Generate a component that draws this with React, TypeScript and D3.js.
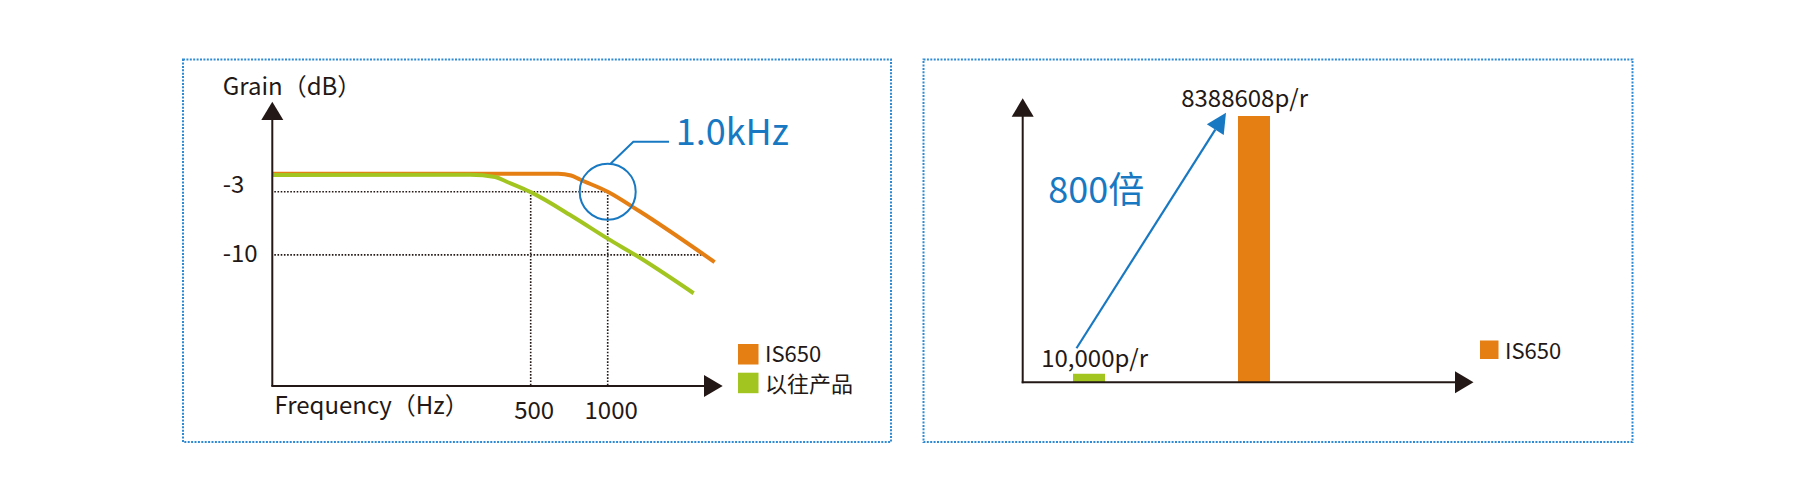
import React from 'react';
import * as d3 from 'd3';

// ---------- Data ----------
const freqIS650 = [49, 640, 719, 779, 1000, 1337, 2618];
const gainIS650 = [-1.0, -1.0, -1.2, -1.65, -3.0, -5.2, -10.8];
const freqOld = [49, 290, 363, 403, 500, 734, 1000, 1298, 2168];
const gainOld = [-1.15, -1.12, -1.37, -1.9, -3.05, -5.8, -8.2, -10.1, -14.25];
const freqTicks = [500, 1000];
const gainTicks = [-3, -10];
const lineSeries = ['IS650', '以往产品'];

const barCategories = ['以往产品', 'IS650'];
const barValues = [10000, 8388608];
const barLabels = ['10,000p/r', '8388608p/r'];
const barLegend = ['IS650'];

const ORANGE = '#e57f13';
const GREEN = '#a2c520';
const BLUE = '#1879c2';
const DARK = '#231815';
const BORDER = '#2e8bd3';
const FONT = '"Noto Sans CJK SC", "Noto Sans", sans-serif';

export default function App() {
  // ---- left chart scales ----
  const x = d3.scaleLog().domain([500, 1000]).range([530.7, 607.7]);
  const y = d3.scaleLinear().domain([-3, -10]).range([191.7, 254.9]);
  const axX0 = 272.3;
  const axY0 = 386;
  const line = d3
    .line<[number, number]>()
    .x((d) => x(d[0]))
    .y((d) => y(d[1]))
    .curve(d3.curveMonotoneX);
  const orangePts = freqIS650.map((f, i) => [f, gainIS650[i]] as [number, number]);
  const greenPts = freqOld.map((f, i) => [f, gainOld[i]] as [number, number]);

  // ---- right chart scales ----
  const bx = d3.scalePoint<string>().domain(barCategories).range([1089, 1254]);
  const by = d3.scaleLog().domain([8000, 8388608]).range([382.3, 116]);
  const barW = 32;
  const bAxX0 = 1022.7;
  const bAxY0 = by(8000);

  const tailX = bx('以往产品')! - 12.5;
  const tailY = by(10000) - 25.5;
  const tipX = bx('IS650')! - 28;
  const tipY = by(8388608) - 3.3;
  const ang = Math.atan2(tipY - tailY, tipX - tailX);
  const headLen = 20;
  const headHalf = 10;
  const bxm = tipX - headLen * Math.cos(ang);
  const bym = tipY - headLen * Math.sin(ang);
  const px = -Math.sin(ang);
  const py = Math.cos(ang);
  const head = `M${tipX},${tipY}L${bxm + px * headHalf},${bym + py * headHalf}L${bxm - px * headHalf},${bym - py * headHalf}Z`;

  const dot = { stroke: DARK, strokeWidth: 1.6, strokeDasharray: '1.6 1.6', fill: 'none' } as const;

  return (
    <svg
      width={1800}
      height={497}
      style={{ position: 'absolute', left: 0, top: 0, background: '#fff' }}
      fontFamily={FONT}
    >
      {/* panel borders */}
      <rect x={183} y={59.5} width={708} height={382.5} fill="none" stroke={BORDER} strokeWidth={2} strokeDasharray="2 1.4" />
      <rect x={923.5} y={59.5} width={709} height={382.5} fill="none" stroke={BORDER} strokeWidth={2} strokeDasharray="2 1.4" />

      {/* ---------- LEFT CHART ---------- */}
      <line x1={axX0 + 2} x2={x(1000)} y1={y(-3)} y2={y(-3)} {...dot} />
      <line x1={axX0 + 2} x2={705} y1={y(-10)} y2={y(-10)} {...dot} />
      {freqTicks.map((f) => (
        <line key={f} x1={x(f)} x2={x(f)} y1={y(-3)} y2={axY0} {...dot} />
      ))}

      <path d={line(orangePts)!} fill="none" stroke={ORANGE} strokeWidth={4} strokeLinecap="butt" />
      <path d={line(greenPts)!} fill="none" stroke={GREEN} strokeWidth={4} strokeLinecap="butt" />

      <line x1={axX0} x2={axX0} y1={axY0} y2={118} stroke={DARK} strokeWidth={2} />
      <path d={`M${axX0},101.7L${axX0 - 11},120L${axX0 + 11},120Z`} fill={DARK} />
      <line x1={axX0 - 1} x2={706} y1={axY0} y2={axY0} stroke={DARK} strokeWidth={2} />
      <path d={`M722.7,${axY0}L704,${axY0 - 11}L704,${axY0 + 11}Z`} fill={DARK} />

      <text x={222.7} y={95} fontSize={24} fill={DARK}>Grain（dB）</text>
      <text x={274.5} y={414} fontSize={24} fill={DARK}>Frequency（Hz）</text>
      {gainTicks.map((g) => (
        <text key={g} x={222.7} y={y(g) + (g === -3 ? 1 : 6.8)} fontSize={24} fill={DARK}>
          {g}
        </text>
      ))}
      {freqTicks.map((f) => (
        <text key={f} x={x(f) + 3.5} y={419.3} fontSize={24} fill={DARK} textAnchor="middle">
          {f}
        </text>
      ))}

      <circle cx={x(1000)} cy={y(-3)} r={28} fill="none" stroke={BLUE} strokeWidth={2} />
      <polyline points="610,164.3 633.3,141.7 669,141.7" fill="none" stroke={BLUE} strokeWidth={2} />
      <text x={675.7} y={145} fontSize={36} fill={BLUE}>1.0kHz</text>

      {lineSeries.map((s, i) => (
        <g key={s}>
          <rect x={738} y={344 + i * 28.7} width={20.5} height={20.5} fill={i === 0 ? ORANGE : GREEN} />
          <text x={765} y={362.3 + i * 29.4} fontSize={22} fill={DARK}>{s}</text>
        </g>
      ))}

      {/* ---------- RIGHT CHART ---------- */}
      {barCategories.map((c, i) => (
        <rect
          key={c}
          x={bx(c)! - barW / 2}
          y={by(barValues[i])}
          width={barW}
          height={bAxY0 - by(barValues[i])}
          fill={i === 0 ? GREEN : ORANGE}
        />
      ))}
      <text x={1041.2} y={366.7} fontSize={24} fill={DARK}>{barLabels[0]}</text>
      <text x={1181.2} y={107.3} fontSize={24} fill={DARK}>{barLabels[1]}</text>

      <line x1={bAxX0} x2={bAxX0} y1={bAxY0 + 1} y2={115} stroke={DARK} strokeWidth={2} />
      <path d={`M${bAxX0},98.3L${bAxX0 - 11},116.7L${bAxX0 + 11},116.7Z`} fill={DARK} />
      <line x1={bAxX0 - 1} x2={1456} y1={bAxY0} y2={bAxY0} stroke={DARK} strokeWidth={2} />
      <path d={`M1473.5,${bAxY0}L1455,${bAxY0 - 11}L1455,${bAxY0 + 11}Z`} fill={DARK} />

      <line x1={tailX} y1={tailY} x2={bxm} y2={bym} stroke={BLUE} strokeWidth={2.2} />
      <path d={head} fill={BLUE} />
      <text x={1048.3} y={202.7} fontSize={36} fill={BLUE}>800倍</text>

      {barLegend.map((s) => (
        <g key={s}>
          <rect x={1480} y={340.5} width={18.5} height={18.5} fill={ORANGE} />
          <text x={1505} y={359} fontSize={22} fill={DARK}>{s}</text>
        </g>
      ))}
    </svg>
  );
}
